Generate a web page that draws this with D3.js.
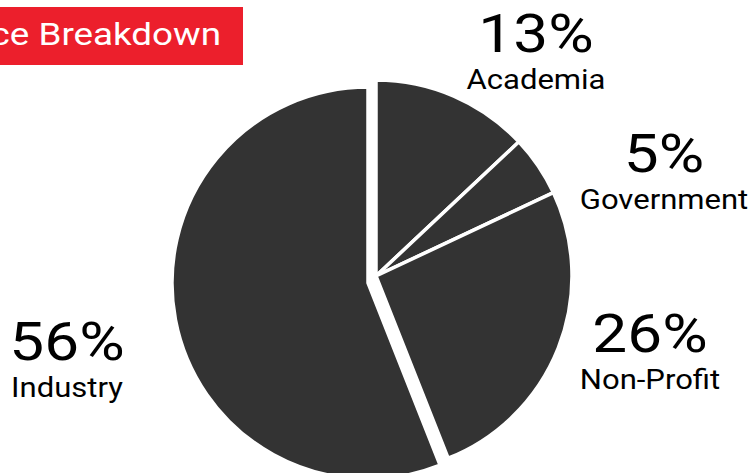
<!DOCTYPE html>
<html>
<head>
<meta charset="utf-8">
<script src="https://cdn.jsdelivr.net/npm/d3@7"></script>
<style>
  html, body { margin: 0; padding: 0; background: #fff; }
  svg { display: block; font-family: Roboto, "Noto Sans", sans-serif; }
</style>
</head>
<body>
<svg id="chart" width="753" height="473"></svg>
<script>
// ---- data ----
const categories = ["Academia", "Government", "Non-Profit", "Industry"];
const values = [13, 5, 26, 56];
const percentLabels = ["13%", "5%", "26%", "56%"];
const titleText = "ce Breakdown";

// ---- layout / style ----
const W = 753, H = 473;
const cx = 376, cy = 276, radius = 196;
const sliceColor = "#333333";
const textStretch = 1.15;
const explode = { "Industry": [-8, 7] };
// label anchor positions (centre x, baseline of percent text)
const labelLayout = {
  "Academia":   [536, 52],
  "Government": [664, 172],
  "Non-Profit": [650, 352],
  "Industry":   [67, 360]
};

const svg = d3.select("#chart");

function stretchedText(parent, x, y, size, anchor, fill, str) {
  return parent.append("text")
    .attr("transform", `translate(${x},${y}) scale(${textStretch},1)`)
    .attr("text-anchor", anchor)
    .attr("font-size", size)
    .attr("fill", fill)
    .text(str);
}

// title box
svg.append("rect").attr("x", 0).attr("y", 7).attr("width", 243).attr("height", 58).attr("fill", "#ec1f2c");
stretchedText(svg, 221, 45, 32, "end", "#fff", titleText);

const data = categories.map((c, i) => ({ cat: c, value: values[i], label: percentLabels[i] }));
const pie = d3.pie().sort(null).value(d => d.value).startAngle(0).endAngle(2 * Math.PI);
const arc = d3.arc().innerRadius(0).outerRadius(radius);

const g = svg.append("g").attr("transform", `translate(${cx},${cy})`);
g.selectAll("path.slice").data(pie(data)).join("path")
  .attr("class", "slice")
  .attr("d", arc)
  .attr("fill", sliceColor)
  .attr("stroke", "#fff")
  .attr("stroke-width", 3.5)
  .attr("stroke-linejoin", "miter")
  .attr("transform", d => {
    const o = explode[d.data.cat] || [0, 0];
    return `translate(${o[0]},${o[1]})`;
  });

const lg = svg.append("g");
data.forEach(d => {
  const [x, y] = labelLayout[d.cat];
  stretchedText(lg, x, y, 54, "middle", "#000", d.label);
  stretchedText(lg, x, y + 37, 27, "middle", "#000", d.cat);
});
</script>
</body>
</html>
